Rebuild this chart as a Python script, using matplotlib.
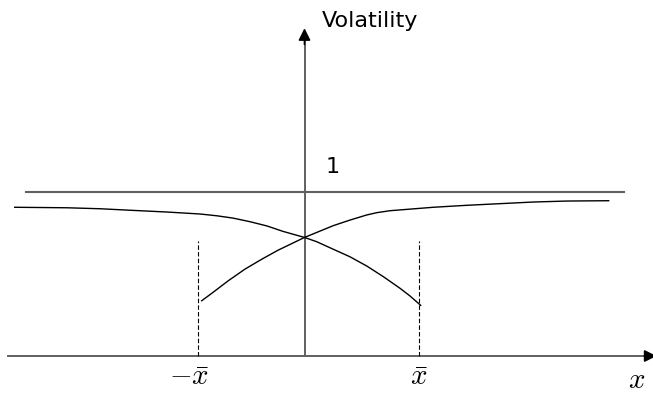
import numpy as np
import matplotlib
matplotlib.use("Agg")
import matplotlib.pyplot as plt

plt.rcParams['mathtext.fontset'] = 'cm'

# curves (x in units of 100px from the vertical axis, y with 1 = flat line)
left_x = [-2.898, -2.378, -2.045, -1.715, -1.375, -1.045, -0.875, -0.715, -0.545, -0.375, -0.215,
          0.0, 0.122, 0.288, 0.455, 0.622, 0.788, 0.955, 1.055, 1.162]
left_y = [0.907, 0.904, 0.898, 0.888, 0.878, 0.866, 0.855, 0.841, 0.819, 0.793, 0.760,
          0.723, 0.697, 0.651, 0.605, 0.549, 0.484, 0.413, 0.366, 0.309]

right_x = [-1.028, -0.928, -0.762, -0.595, -0.428, -0.262, -0.095, 0.0, 0.288, 0.455, 0.622,
           0.722, 0.855, 1.288, 1.622, 1.955, 2.288, 2.622, 3.042]
right_y = [0.337, 0.382, 0.459, 0.530, 0.590, 0.646, 0.695, 0.723, 0.795, 0.829, 0.860,
           0.874, 0.886, 0.907, 0.919, 0.929, 0.939, 0.945, 0.947]

level_one = 1.0
xbar_pos = [-1.062, 1.148]
xbar_labels = [r'$-\bar{x}$', r'$\bar{x}$']
dash_top = 0.70

fig = plt.figure(figsize=(6.53, 3.97), dpi=100)
ax = fig.add_axes([0, 0, 1, 1])
ax.set_xlim(-3.045, 3.485)
ax.set_ylim(-0.25, 2.171)
ax.axis('off')

axis_col = '#606060'
head = '-|>,head_length=0.6,head_width=0.3'

# axes
ax.plot([-2.965, 3.44], [0, 0], color=axis_col, lw=1.4)
ax.plot([0, 0], [0, 1.95], color=axis_col, lw=1.4)
ax.annotate('', xy=(3.52, 0), xytext=(3.40, 0), annotation_clip=False,
            arrowprops=dict(arrowstyle=head, mutation_scale=12,
                            color='black', lw=1.2, shrinkA=0, shrinkB=0))
ax.annotate('', xy=(0, 1.999), xytext=(0, 1.90), annotation_clip=False,
            arrowprops=dict(arrowstyle=head, mutation_scale=12,
                            color='black', lw=1.2, shrinkA=0, shrinkB=0))

# flat line at 1
ax.plot([-2.785, 3.195], [level_one, level_one], color=axis_col, lw=1.5)

# the two curves
ax.plot(left_x, left_y, color='black', lw=1.0)
ax.plot(right_x, right_y, color='black', lw=1.0)

# dashed verticals at +/- xbar
for xp in xbar_pos:
    ax.plot([xp, xp], [0, dash_top], color='black', lw=0.8, ls=(0, (4, 2)))

ax.text(-1.155, -0.128, xbar_labels[0], fontsize=21, ha='center', va='center')
ax.text(1.145, -0.128, xbar_labels[1], fontsize=21, ha='center', va='center')
ax.text(3.32, -0.146, r'$x$', fontsize=21, ha='center', va='center')

ax.text(0.175, 2.008, 'Volatility', fontsize=16, family='DejaVu Sans', ha='left', va='baseline')
ax.text(0.215, 1.116, '1', fontsize=16, family='DejaVu Sans', ha='left', va='baseline')

fig.savefig('out.png', dpi=100)
